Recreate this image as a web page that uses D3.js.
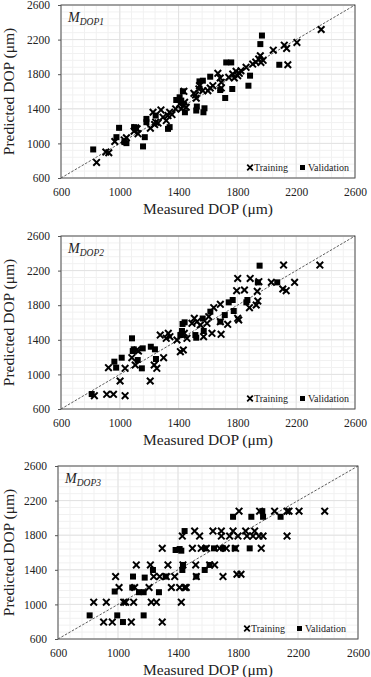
<!DOCTYPE html>
<html>
<head>
<meta charset="utf-8">
<script src="https://cdn.jsdelivr.net/npm/d3@7"></script>
<style>
  body { margin: 0; background: #fff; }
  svg { display: block; }
</style>
</head>
<body>
<div id="chart"></div>
<script>
// Axis ticks (same for both axes, all panels)
var majorTicks = [600, 1000, 1400, 1800, 2200, 2600];
var panelNames = ["DOP1", "DOP2", "DOP3"];
var legendLabels = ["Training", "Validation"];

// Panel 1 : [measured, predicted]
var train1 = [[842,780],[905,900],[925,892],[966,1022],[1045,1065],[1030,1040],[1097,1141],[1118,1168],[1124,1111],[1108,1180],
  [1208,1176],[1226,1360],[1237,1218],[1244,1245],[1260,1235],[1280,1387],[1294,1303],[1316,1264],[1328,1322],[1339,1360],
  [1355,1333],[1380,1399],[1407,1456],[1418,1399],[1434,1437],[1441,1475],[1452,1418],[1436,1602],[1504,1579],[1515,1560],
  [1520,1522],[1542,1667],[1538,1630],[1565,1610],[1599,1610],[1615,1640],[1633,1667],[1667,1810],[1683,1756],[1690,1706],
  [1690,1640],[1741,1764],[1768,1802],[1779,1756],[1791,1833],[1802,1783],[1813,1810],[1824,1840],[1859,1879],[1904,1917],
  [1925,1940],[1945,1975],[1956,2013],[1960,1936],[1975,1960],[2044,2078],[2119,2136],[2135,2098],[2205,2167],[2370,2317],
  [2143,1909]];
var valid1 = [[819,930],[977,1072],[995,1180],[1031,1015],[1045,1003],[1097,1188],[1110,1170],[1158,965],[1170,1072],[1181,1283],
  [1181,1245],[1244,1322],[1328,1168],[1339,1188],[1384,1502],[1407,1533],[1418,1495],[1429,1602],[1443,1360],[1520,1380],
  [1524,1426],[1569,1360],[1576,1406],[1542,1717],[1565,1725],[1615,1771],[1683,1617],[1717,1525],[1724,1936],[1758,1936],
  [1765,1629],[1875,1667],[1886,1783],[1956,2148],[1967,2247],[2085,1909]];

// Panel 2
var train2 = [[827,754],[923,1078],[911,770],[957,770],[1036,754],[1002,924],[1036,1070],[1082,1193],[1105,1109],[1116,1282],
  [1127,1270],[1207,924],[1234,1109],[1252,1070],[1275,1455],[1298,1193],[1316,1417],[1330,1475],[1341,1436],[1389,1398],
  [1412,1263],[1423,1455],[1432,1282],[1439,1475],[1457,1417],[1491,1590],[1507,1648],[1525,1610],[1548,1571],[1570,1436],
  [1593,1590],[1605,1667],[1627,1475],[1639,1771],[1684,1810],[1684,1610],[1689,1463],[1734,1579],[1802,2110],[1795,1968],
  [1802,1648],[1809,1629],[1848,1976],[1882,1771],[1887,2110],[1928,1802],[1939,1848],[1935,1960],[1946,2072],[2031,2064],
  [2114,2264],[2109,1987],[2132,1968],[2189,2064],[2361,2264]];
var valid2 = [[809,773],[963,1147],[975,1078],[1013,1193],[1083,1417],[1088,1270],[1095,1290],[1156,1301],[1150,1070],[1122,1166],
  [1211,1320],[1239,1290],[1246,1178],[1412,1455],[1423,1502],[1427,1583],[1441,1602],[1514,1455],[1520,1424],[1564,1646],
  [1571,1502],[1616,1725],[1684,1610],[1714,1686],[1741,1833],[1768,1860],[1775,1733],[1861,1833],[1868,1860],[1951,2257],
  [1939,2064],[2071,2064]];

// Panel 3
var train3 = [[838,1026],[904,796],[922,1026],[962,796],[984,1322],[1007,1195],[1038,1026],[1051,1026],[1089,796],[1111,1195],
  [1104,1026],[1122,1456],[1207,1195],[1216,1456],[1222,1026],[1238,1322],[1256,1026],[1278,1322],[1295,796],[1295,1648],
  [1322,1322],[1333,1456],[1356,1195],[1378,1322],[1411,1195],[1422,1026],[1429,1790],[1433,1456],[1444,1195],[1455,1195],
  [1496,1648],[1511,1848],[1522,1322],[1518,1456],[1544,1790],[1555,1648],[1589,1648],[1611,1456],[1633,1848],[1644,1456],
  [1678,1648],[1689,1848],[1689,1790],[1700,1322],[1722,1648],[1744,1790],[1767,1848],[1784,1648],[1800,1790],[1807,2078],
  [1793,1349],[1820,1349],[1851,1848],[1860,1790],[1900,1790],[1911,1848],[1940,1790],[1955,1648],[1967,1790],[1944,2078],
  [2044,2078],[2127,2078],[2127,1790],[2140,2078],[2207,2078],[2378,2078]];
var valid3 = [[811,873],[978,1149],[995,873],[1033,796],[1100,1322],[1095,1195],[1140,1141],[1171,1141],[1171,873],[1178,1310],
  [1233,1398],[1273,1141],[1318,1322],[1384,1629],[1411,1640],[1422,1621],[1429,1398],[1433,1456],[1444,1848],[1522,1322],
  [1578,1398],[1611,1456],[1767,2013],[1778,1648],[1889,2013],[1878,1648],[1962,2078],[1967,2013],[2084,2013],[1580,1648],
  [1640,1648],[1700,1648]];

var width = 371, height = 677;
var svg = d3.select("#chart")
  .append("svg")
    .attr("width", width)
    .attr("height", height);

var font = "'Liberation Serif', 'Times New Roman', serif";

// plot boxes
var panels = [
  {name: panelNames[0], train: train1, valid: valid1, left: 61, right: 355, top: 5, bottom: 178},
  {name: panelNames[1], train: train2, valid: valid2, left: 61, right: 355, top: 236, bottom: 409},
  {name: panelNames[2], train: train3, valid: valid3, left: 58, right: 358, top: 466, bottom: 639}
];

panels.forEach(function(p) {
  var x = d3.scaleLinear().domain([600, 2600]).range([p.left, p.right]);
  var y = d3.scaleLinear().domain([600, 2600]).range([p.bottom, p.top]);
  var g = svg.append("g");

  // minor + major grid
  var minor = d3.range(600, 2601, 80);
  g.append("g").selectAll("line.mx").data(minor).enter().append("line")
    .attr("x1", function(d) { return x(d); }).attr("x2", function(d) { return x(d); })
    .attr("y1", p.top).attr("y2", p.bottom)
    .attr("stroke", "#f1f1f1").attr("stroke-width", 1);
  g.append("g").selectAll("line.my").data(minor).enter().append("line")
    .attr("y1", function(d) { return y(d); }).attr("y2", function(d) { return y(d); })
    .attr("x1", p.left).attr("x2", p.right)
    .attr("stroke", "#f1f1f1").attr("stroke-width", 1);
  g.append("g").selectAll("line").data(majorTicks).enter().append("line")
    .attr("x1", function(d) { return x(d); }).attr("x2", function(d) { return x(d); })
    .attr("y1", p.top).attr("y2", p.bottom)
    .attr("stroke", "#e2e2e2").attr("stroke-width", 1);
  g.append("g").selectAll("line").data(majorTicks).enter().append("line")
    .attr("y1", function(d) { return y(d); }).attr("y2", function(d) { return y(d); })
    .attr("x1", p.left).attr("x2", p.right)
    .attr("stroke", "#e2e2e2").attr("stroke-width", 1);

  // axes
  var fmt = d3.format("d");
  var xAxis = g.append("g")
    .attr("transform", "translate(0," + p.bottom + ")")
    .call(d3.axisBottom(x).tickValues(majorTicks).tickFormat(fmt).tickSize(0).tickPadding(10));
  var yAxis = g.append("g")
    .attr("transform", "translate(" + p.left + ",0)")
    .call(d3.axisLeft(y).tickValues(majorTicks).tickFormat(fmt).tickSize(3).tickPadding(8));
  [xAxis, yAxis].forEach(function(a) {
    a.select(".domain").remove();
    a.selectAll("line").attr("stroke", "#555");
    a.selectAll("text")
      .attr("font-family", font)
      .attr("font-size", 11.5)
      .attr("fill", "#222");
  });

  // 1:1 line
  g.append("line")
    .attr("x1", x(600)).attr("y1", y(600))
    .attr("x2", x(2600)).attr("y2", y(2600))
    .attr("stroke", "#333").attr("stroke-width", 0.8)
    .attr("stroke-dasharray", "2.5,1.5");

  // frame
  g.append("rect")
    .attr("x", p.left).attr("y", p.top)
    .attr("width", p.right - p.left).attr("height", p.bottom - p.top)
    .attr("fill", "none").attr("stroke", "#555").attr("stroke-width", 1);

  // validation squares
  g.append("g").selectAll("rect")
    .data(p.valid)
    .enter()
    .append("rect")
      .attr("x", function(d) { return x(d[0]) - 3; })
      .attr("y", function(d) { return y(d[1]) - 3; })
      .attr("width", 6)
      .attr("height", 6)
      .attr("fill", "#000");

  // training crosses
  var cross = d3.symbol().type(d3.symbolX).size(30);
  g.append("g").selectAll("path")
    .data(p.train)
    .enter()
    .append("path")
      .attr("d", cross)
      .attr("transform", function(d) { return "translate(" + x(d[0]) + "," + y(d[1]) + ")"; })
      .attr("fill", "none")
      .attr("stroke", "#000")
      .attr("stroke-width", 2);

  // panel label
  var lab = g.append("text")
    .attr("x", p.left + 7).attr("y", p.top + 17)
    .attr("font-family", font).attr("font-style", "italic").attr("fill", "#222");
  lab.append("tspan").attr("font-size", 14).text("M");
  lab.append("tspan").attr("font-size", 9.5).attr("dy", 2.5).text(p.name);

  // legend
  var ly = p.bottom - 7;
  g.append("path")
    .attr("d", d3.symbol().type(d3.symbolX).size(22))
    .attr("transform", "translate(" + (p.left + 189) + "," + (ly - 3.5) + ")")
    .attr("fill", "none").attr("stroke", "#000").attr("stroke-width", 1.8);
  g.append("text")
    .attr("x", p.left + 193).attr("y", ly)
    .attr("font-family", font).attr("font-size", 10).attr("fill", "#222")
    .text(legendLabels[0]);
  g.append("rect")
    .attr("x", p.left + 239).attr("y", ly - 6)
    .attr("width", 5).attr("height", 5).attr("fill", "#000");
  g.append("text")
    .attr("x", p.left + 247).attr("y", ly)
    .attr("font-family", font).attr("font-size", 10).attr("fill", "#222")
    .text(legendLabels[1]);

  // axis titles
  g.append("text")
    .attr("x", (p.left + p.right) / 2).attr("y", p.bottom + 36)
    .attr("text-anchor", "middle")
    .attr("font-family", font).attr("font-size", 15.5).attr("fill", "#222")
    .text("Measured DOP (μm)");
  g.append("text")
    .attr("transform", "translate(14," + ((p.top + p.bottom) / 2) + ")rotate(-90)")
    .attr("text-anchor", "middle")
    .attr("font-family", font).attr("font-size", 15.5).attr("fill", "#222")
    .text("Predicted DOP (μm)");
});
</script>
</body>
</html>
